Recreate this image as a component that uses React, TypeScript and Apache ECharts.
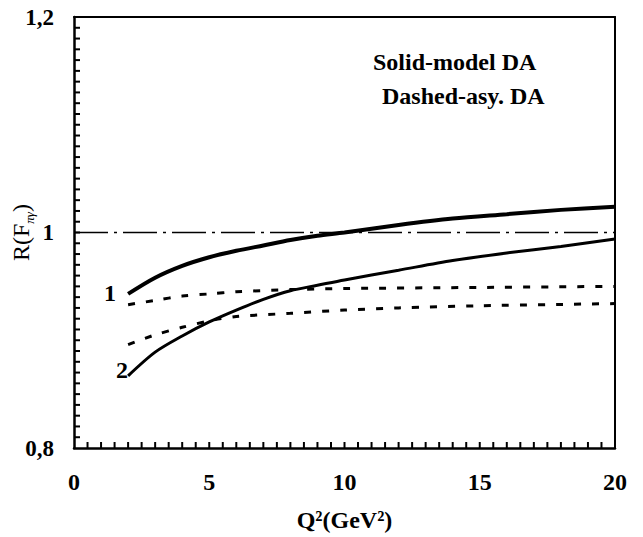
import React, { useEffect, useRef } from "react";
import * as echarts from "echarts";

const solidModel1X = [2, 3, 4, 5, 6, 7, 8, 9, 10, 12, 14, 16, 18, 20];
const solidModel1Y = [0.943, 0.958, 0.969, 0.977, 0.983, 0.988, 0.993, 0.997, 1.0, 1.007, 1.013, 1.017, 1.021, 1.024];
const solidModel2X = [2, 3, 4, 5, 6, 7, 8, 9, 10, 12, 14, 16, 18, 20];
const solidModel2Y = [0.867, 0.889, 0.904, 0.917, 0.928, 0.938, 0.946, 0.951, 0.956, 0.965, 0.974, 0.981, 0.987, 0.994];
const dashedAsy1X = [2, 3, 4, 5, 6, 8, 10, 15, 20];
const dashedAsy1Y = [0.933, 0.937, 0.941, 0.943, 0.945, 0.947, 0.948, 0.949, 0.95];
const dashedAsy2X = [2, 3, 4, 5, 6, 8, 10, 12, 15, 20];
const dashedAsy2Y = [0.896, 0.905, 0.912, 0.918, 0.922, 0.925, 0.928, 0.93, 0.932, 0.934];
const referenceX = [0, 20];
const referenceY = [1, 1];

const xTicks = [0, 5, 10, 15, 20];
const yTicks = [0.8, 1.0, 1.2];
const xMinorTicks = [
  0.5, 1, 1.5, 2, 2.5, 3, 3.5, 4, 4.5, 5, 5.5, 6, 6.5, 7, 7.5, 8, 8.5, 9, 9.5, 10,
  10.5, 11, 11.5, 12, 12.5, 13, 13.5, 14, 14.5, 15, 15.5, 16, 16.5, 17, 17.5, 18, 18.5, 19, 19.5,
];
const yMinorTicks = [
  0.81, 0.82, 0.83, 0.84, 0.85, 0.86, 0.87, 0.88, 0.89, 0.9, 0.91, 0.92, 0.93, 0.94, 0.95, 0.96, 0.97, 0.98, 0.99, 1.0,
  1.01, 1.02, 1.03, 1.04, 1.05, 1.06, 1.07, 1.08, 1.09, 1.1, 1.11, 1.12, 1.13, 1.14, 1.15, 1.16, 1.17, 1.18, 1.19,
];
const legendLines = ["Solid-model DA", "Dashed-asy. DA"];
const curveLabels = ["1", "2"];

const FONT = "'Liberation Serif', 'Times New Roman', serif";

const pairs = (xs: number[], ys: number[]) => xs.map((x, i) => [x, ys[i]]);

export default function App() {
  const ref = useRef<HTMLDivElement>(null);
  useEffect(() => {
    if (!ref.current) return;
    const chart = echarts.init(ref.current, null, { renderer: "svg" });
    const curve = {
      type: "line",
      smooth: 0.3,
      showSymbol: false,
    };
    const xMin = xTicks[0];
    const xMax = xTicks[xTicks.length - 1];
    const yMin = yTicks[0];
    const yMax = yTicks[yTicks.length - 1];
    const border = { show: true, onZero: false, lineStyle: { color: "#000", width: 2 } };
    const TICK = 6;
    chart.setOption({
      animation: false,
      backgroundColor: "#fff",
      grid: {
        left: 74,
        right: 28,
        top: 17,
        bottom: 89,
        containLabel: false,
        outerBoundsMode: "none",
        show: false,
      },
      xAxis: [
        {
          type: "value",
          position: "bottom",
          min: xMin,
          max: xMax,
          interval: 5,
          name: "Q²(GeV²)",
          nameLocation: "middle",
          nameGap: 60,
          nameMoveOverlap: false,
          nameTextStyle: { fontFamily: FONT, fontWeight: "bold", fontSize: 24, color: "#000" },
          axisLine: { show: true, onZero: false, lineStyle: { color: "#000", width: 2.5 } },
          axisTick: { show: false },
          splitLine: { show: false },
          axisLabel: {
            margin: 22,
            fontFamily: FONT,
            fontWeight: "bold",
            fontSize: 24,
            color: "#000",
            formatter: (v: number) => String(v),
          },
        },
        {
          type: "value",
          position: "top",
          min: xMin,
          max: xMax,
          axisLine: border,
          axisTick: { show: false },
          axisLabel: { show: false },
          splitLine: { show: false },
        },
      ],
      yAxis: [
        {
          type: "value",
          position: "left",
          min: yMin,
          max: yMax,
          interval: 0.2,
          name: "{a|R(F}{s|πγ}{a|)}",
          nameLocation: "middle",
          nameGap: 38,
          nameRotate: 90,
          nameMoveOverlap: false,
          nameTextStyle: {
            color: "#000",
            rich: {
              a: { fontFamily: FONT, fontSize: 24, color: "#000", lineHeight: 30, verticalAlign: "middle" },
              s: { fontFamily: FONT, fontSize: 13, color: "#000", fontStyle: "italic", verticalAlign: "bottom", padding: [8, 0, 0, 0] },
            },
          },
          axisLine: { show: true, onZero: false, lineStyle: { color: "#000", width: 2.5 } },
          axisTick: { show: false },
          splitLine: { show: false },
          axisLabel: {
            margin: 20,
            fontFamily: FONT,
            fontWeight: "bold",
            fontSize: 23,
            color: "#000",
            formatter: (v: number) => (Math.abs(v - 1) < 1e-9 ? "1" : v.toFixed(1).replace(".", ",")),
          },
        },
        {
          type: "value",
          position: "right",
          min: yMin,
          max: yMax,
          axisLine: border,
          axisTick: { show: false },
          axisLabel: { show: false },
          splitLine: { show: false },
        },
      ],
      series: [
        {
          name: "xTickMarks",
          type: "scatter",
          xAxisIndex: 0,
          yAxisIndex: 0,
          clip: false,
          silent: true,
          symbol: "rect",
          symbolSize: [2, TICK],
          symbolOffset: [0, -TICK / 2],
          itemStyle: { color: "#000", opacity: 1 },
          data: xMinorTicks.map((v) => [v, yMin]),
          z: 3,
        },
        {
          name: "yTickMarks",
          type: "scatter",
          xAxisIndex: 0,
          yAxisIndex: 0,
          clip: false,
          silent: true,
          symbol: "rect",
          symbolSize: [TICK, 2],
          symbolOffset: [TICK / 2, 0],
          itemStyle: { color: "#000", opacity: 1 },
          data: yMinorTicks.map((v) => [xMin, v]),
          z: 3,
        },
        {
          name: "reference",
          type: "line",
          xAxisIndex: 0,
          yAxisIndex: 0,
          data: pairs(referenceX, referenceY),
          showSymbol: false,
          lineStyle: { color: "#000", width: 1.5, type: [34, 6, 3, 6] },
          z: 1,
        },
        {
          ...curve,
          name: "solid1",
          data: pairs(solidModel1X, solidModel1Y),
          lineStyle: { color: "#000", width: 4 },
        },
        {
          ...curve,
          name: "solid2",
          data: pairs(solidModel2X, solidModel2Y),
          lineStyle: { color: "#000", width: 3 },
        },
        {
          ...curve,
          name: "dashed1",
          data: pairs(dashedAsy1X, dashedAsy1Y),
          lineStyle: { color: "#000", width: 3, type: [7, 11] },
        },
        {
          ...curve,
          name: "dashed2",
          data: pairs(dashedAsy2X, dashedAsy2Y),
          lineStyle: { color: "#000", width: 3, type: [7, 11] },
        },
      ],
      graphic: [
        {
          type: "text",
          left: 373,
          top: 50,
          style: { text: legendLines[0], font: `bold 24px ${FONT}`, fill: "#000" },
        },
        {
          type: "text",
          left: 382,
          top: 84,
          style: { text: legendLines[1], font: `bold 24px ${FONT}`, fill: "#000" },
        },
        {
          type: "text",
          left: 104,
          top: 281,
          style: { text: curveLabels[0], font: `bold 24px ${FONT}`, fill: "#000" },
        },
        {
          type: "text",
          left: 116,
          top: 358,
          style: { text: curveLabels[1], font: `bold 24px ${FONT}`, fill: "#000" },
        },
      ],
    });
    return () => chart.dispose();
  }, []);
  return (
    <div
      ref={ref}
      style={{ position: "absolute", left: 0, top: 0, width: 643, height: 537 }}
    />
  );
}
